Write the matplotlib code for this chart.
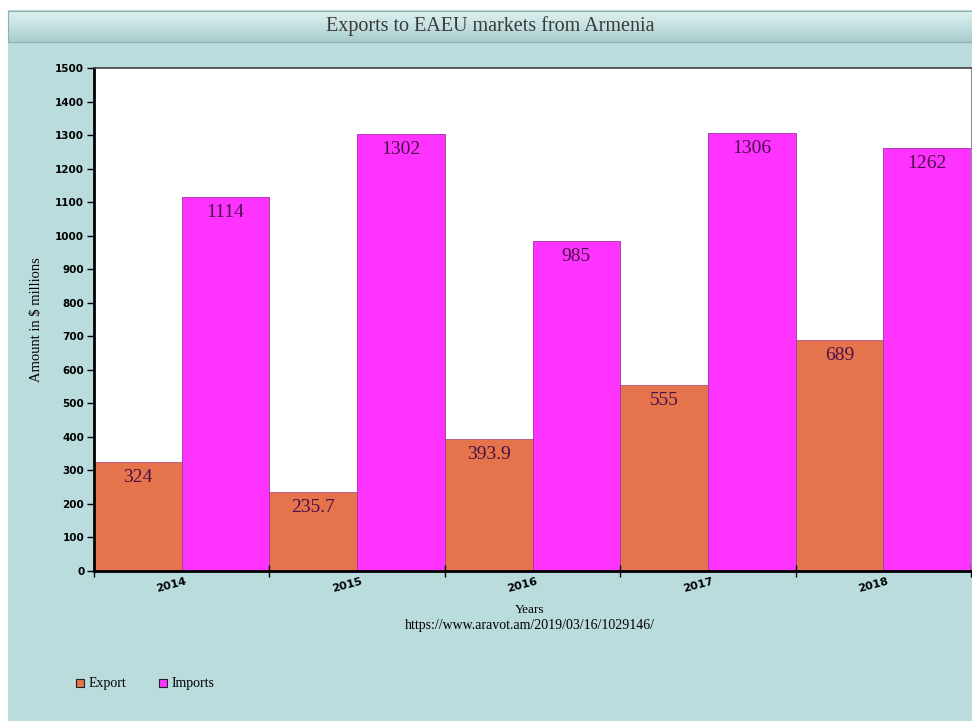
import matplotlib
matplotlib.use("Agg")
import matplotlib.pyplot as plt
import numpy as np
from matplotlib.patches import Rectangle
from matplotlib.transforms import ScaledTranslation


years = ["2014", "2015", "2016", "2017", "2018"]
exports = [324, 235.7, 393.9, 555, 689]
imports = [1114, 1302, 985, 1306, 1262]
export_labels = ["324", "235.7", "393.9", "555", "689"]
import_labels = ["1114", "1302", "985", "1306", "1262"]
yticks = list(range(0, 1501, 100))

bg = "#badcdc"
export_color = "#e5744c"
import_color = "#ff33ff"
serif = ["Liberation Serif", "DejaVu Serif"]

W, H = 972, 721
fig = plt.figure(figsize=(W / 100, H / 100), dpi=100)
fig.patch.set_facecolor("white")

# teal panel behind everything
fig.patches.append(Rectangle((8 / W, 0), 1, 1 - 10 / H, transform=fig.transFigure,
                             facecolor=bg, edgecolor="none", zorder=-10))

# title bar with a soft vertical gradient
tax = fig.add_axes([8 / W, 1 - 42 / H, 1 - 8 / W, 31 / H])
grad = np.linspace(0, 1, 50).reshape(-1, 1)
tax.imshow(grad, aspect="auto", extent=[0, 1, 0, 1],
           cmap=matplotlib.colors.LinearSegmentedColormap.from_list(
               "bar", ["#dff0f0", "#c4e0e0", "#a9cccc"]))
tax.set_xticks([])
tax.set_yticks([])
for s in tax.spines.values():
    s.set_color("#8fb0b0")
tax.text(0.5, 0.5, "Exports to EAEU markets from Armenia", ha="center", va="center",
         fontsize=14.5, color="#3a3a3a", family=serif)

# main chart
ax = fig.add_axes([94 / W, 1 - 571 / H, (971 - 94) / W, (571 - 68) / H])
ax.set_facecolor("white")
x = np.arange(len(years))
w = 0.5
b1 = ax.bar(x - w / 2, exports, width=w, color=export_color, edgecolor="#b0508a", linewidth=0.6)
b2 = ax.bar(x + w / 2, imports, width=w, color=import_color, edgecolor="#a030a0", linewidth=0.6)

for bars, labels in ((b1, export_labels), (b2, import_labels)):
    for rect, lab in zip(bars, labels):
        ax.annotate(lab, (rect.get_x() + rect.get_width() / 2, rect.get_height()),
                    xytext=(0, -5), textcoords="offset points", ha="center", va="top",
                    fontsize=14, color="#4a1048", family=serif)

ax.set_xlim(-0.5, len(years) - 0.5)
ax.set_ylim(0, 1500)
ax.set_yticks(yticks)
ax.tick_params(axis="y", labelsize=7.5, length=5, width=1, pad=2)
for lab in ax.get_yticklabels():
    lab.set_fontweight("semibold")

ax.set_xticks(np.arange(len(years) + 1) - 0.5)
ax.set_xticklabels([])
ax.tick_params(axis="x", which="major", length=8, width=1, direction="inout")
ax.set_xticks(x, minor=True)
ax.set_xticklabels(years, minor=True, rotation=15, fontsize=8, fontweight="semibold",
                   ha="center")
ax.tick_params(axis="x", which="minor", length=0, pad=4)
shift = ScaledTranslation(-10 / 100, 0, fig.dpi_scale_trans)
for lab in ax.get_xticklabels(minor=True):
    lab.set_transform(lab.get_transform() + shift)

ax.spines["left"].set_linewidth(2)
ax.spines["bottom"].set_linewidth(2)
ax.spines["top"].set_color("#404040")
ax.spines["top"].set_linewidth(1.2)
ax.spines["right"].set_color("#909090")

ax.set_ylabel("Amount in $ millions", fontsize=10.5, family=serif, labelpad=9)
fig.text(530 / W, 1 - 610 / H, "Years", ha="center", va="center", fontsize=9.5, family=serif)
fig.text(530 / W, 1 - 625 / H, "https://www.aravot.am/2019/03/16/1029146/", ha="center",
         va="center", fontsize=10, family=serif)

# legend
for lx, col, txt in ((80, export_color, "Export"), (163, import_color, "Imports")):
    fig.patches.append(Rectangle((lx / W - 4 / W, 1 - 687 / H), 8 / W, 8 / H,
                                 transform=fig.transFigure, facecolor=col,
                                 edgecolor="#222222", linewidth=0.8))
    fig.text((lx + 9) / W, 1 - 683 / H, txt, ha="left", va="center", fontsize=10,
             family=serif)

fig.savefig("out.png", dpi=100)
